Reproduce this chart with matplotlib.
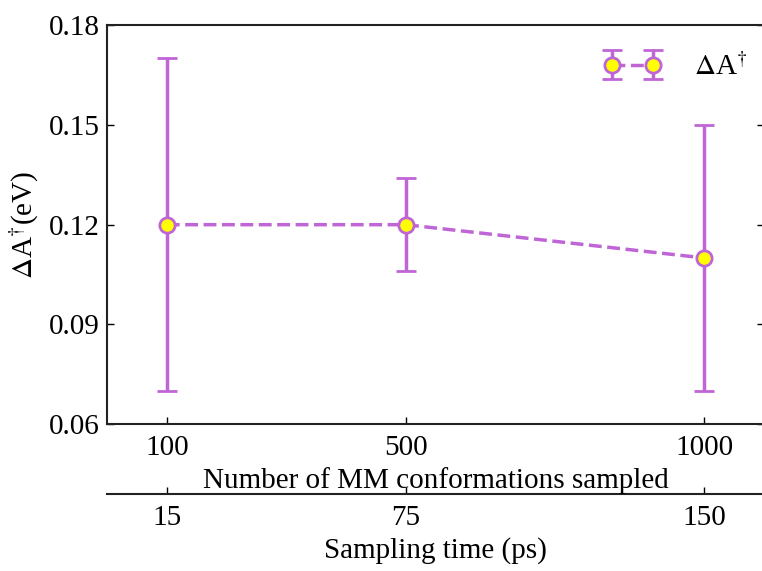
import matplotlib
matplotlib.use("Agg")
import matplotlib.pyplot as plt

# Data
n_conformations = [100, 500, 1000]
sampling_time_ticks = [15, 75, 150]
delta_a = [0.12, 0.12, 0.11]
delta_a_err = [0.05, 0.014, 0.04]
y_ticks = [0.06, 0.09, 0.12, 0.15, 0.18]

ps_per_conf = 0.15  # 100 conf -> 15 ps

plt.rcParams["font.family"] = "Liberation Serif"
plt.rcParams["mathtext.fontset"] = "stix"
plt.rcParams["font.size"] = 21

purple = "#c065d6"

fig = plt.figure(figsize=(7.62, 5.71), dpi=100)
ax = fig.add_axes([0.1405, 0.257, 0.862, 0.699])

ax.errorbar(n_conformations, delta_a, yerr=delta_a_err, color=purple,
            ls="--", lw=2.5, elinewidth=2.5, capsize=7, capthick=2.5,
            marker="o", ms=11, mfc="yellow", mec=purple, mew=2,
            label="$\\Delta$A$^{\\dagger}$")

ax.set_xlim(0, 1100)
ax.set_ylim(0.06, 0.18)
ax.set_xticks(n_conformations)
ax.set_yticks(y_ticks)
ax.set_yticklabels([f"{v:.2f}" for v in y_ticks])
ax.tick_params(direction="in", length=5, width=1, right=True)
ax.tick_params(axis="x", pad=8)
ax.tick_params(axis="y", pad=5)
ax.set_xlabel("Number of MM conformations sampled", labelpad=4)
ax.set_ylabel("$\\Delta$A$^{\\dagger}$(eV)", labelpad=6)
for sp in ax.spines.values():
    sp.set_linewidth(1.5)
    sp.set_color("#222222")

sec = ax.secondary_xaxis(-0.175, functions=(lambda x: x * ps_per_conf,
                                            lambda x: x / ps_per_conf))
sec.set_xticks(sampling_time_ticks)
sec.tick_params(direction="in", length=5, width=1, pad=8)
sec.set_xlabel("Sampling time (ps)", labelpad=4)
sec.spines["bottom"].set_linewidth(1.5)
sec.spines["bottom"].set_color("#222222")

ax.legend(loc="upper right", bbox_to_anchor=(1.024, 1.01), frameon=False,
          numpoints=2, handlelength=2.0, handletextpad=1.1,
          borderaxespad=0.7, fontsize=21)

fig.savefig("out.png", dpi=100)
